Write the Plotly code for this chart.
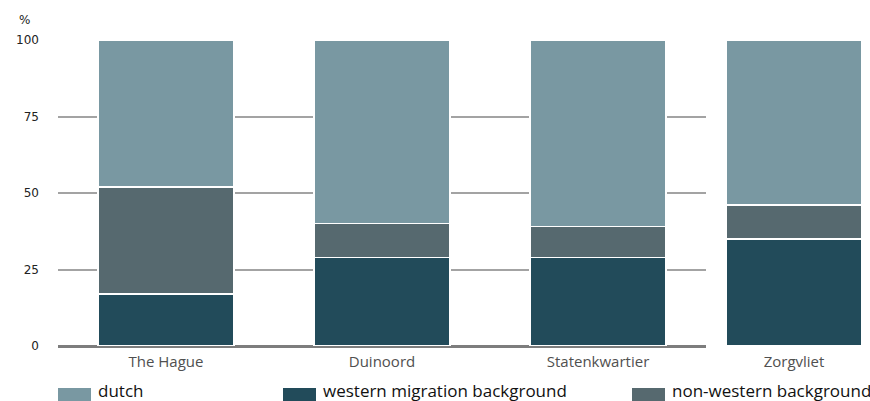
import plotly.graph_objects as go

# Population by migration background, share in %
districts = ["The Hague", "Duinoord", "Statenkwartier"]
district_extra = ["Zorgvliet"]
series_names = ["western migration background", "non-western background", "dutch"]
western = [17, 29, 29]
non_western = [35, 11, 10]
dutch = [48, 60, 61]
western_z = [35]
non_western_z = [11]
dutch_z = [54]
y_ticks = [0, 25, 50, 75, 100]

colors = {
    "dutch": "#7998a2",
    "western migration background": "#224b5a",
    "non-western background": "#56696f",
}

W, H = 870, 401
ML, MR, MT, MB = 58, 8, 40, 55
PW = W - ML - MR
PH = H - MT - MB


def px_x(x):
    return (x - ML) / PW


def px_y(y):
    return (H - MB - y) / PH


fig = go.Figure()

main_vals = {"western migration background": western,
             "non-western background": non_western,
             "dutch": dutch}
extra_vals = {"western migration background": western_z,
              "non-western background": non_western_z,
              "dutch": dutch_z}

for name in series_names:
    fig.add_bar(x=districts, y=main_vals[name], name=name, width=0.63,
                marker=dict(color=colors[name], line=dict(color="white", width=1.5)),
                xaxis="x", yaxis="y", showlegend=False)
    fig.add_bar(x=district_extra, y=extra_vals[name], name=name, width=1.0,
                marker=dict(color=colors[name], line=dict(color="white", width=1.5)),
                xaxis="x2", yaxis="y2", showlegend=False)

label_font = dict(family="Open Sans, sans-serif", size=15, color="#505050")

fig.update_layout(
    width=W, height=H,
    margin=dict(l=ML, r=MR, t=MT, b=MB),
    barmode="stack",
    plot_bgcolor="white", paper_bgcolor="white",
    xaxis=dict(domain=[0, px_x(706)], type="category", range=[-0.5, 2.5],
               showgrid=False, showline=False, ticks="", tickfont=label_font,
               ticklabelstandoff=5, fixedrange=True),
    xaxis2=dict(domain=[px_x(726), 1], type="category", range=[-0.5, 0.5],
                showgrid=False, showline=False, ticks="", tickfont=label_font,
                ticklabelstandoff=5, anchor="y2"),
    yaxis=dict(range=[0, 100], tickvals=y_ticks, showgrid=True,
               gridcolor="#a3a3a3", gridwidth=1.5,
               zeroline=True, zerolinecolor="#7d7d7d", zerolinewidth=3,
               showline=False, ticks="", ticklabelstandoff=18,
               tickfont=dict(family="DejaVu Sans, sans-serif", size=12, color="#222222")),
    yaxis2=dict(range=[0, 100], anchor="x2", showgrid=False, zeroline=False,
                showticklabels=False, ticks="", showline=False),
    showlegend=False,
)

fig.add_annotation(text="%", xref="paper", yref="paper", x=px_x(24), y=px_y(20),
                   showarrow=False, xanchor="center", yanchor="middle",
                   font=dict(family="DejaVu Sans, sans-serif", size=12, color="#222222"))

# Legend row below the axis
legend_items = [("dutch", 58), ("western migration background", 283),
                ("non-western background", 632)]
for name, x0 in legend_items:
    fig.add_shape(type="rect", xref="paper", yref="paper",
                  x0=px_x(x0), x1=px_x(x0 + 33), y0=px_y(388), y1=px_y(402),
                  fillcolor=colors[name], line=dict(width=0))
    fig.add_annotation(text=name, xref="paper", yref="paper",
                       x=px_x(x0 + 38), y=px_y(390), showarrow=False,
                       xanchor="left", yanchor="middle",
                       font=dict(family="Open Sans, sans-serif", size=17, color="#111111"))

fig.write_html("out.html")
